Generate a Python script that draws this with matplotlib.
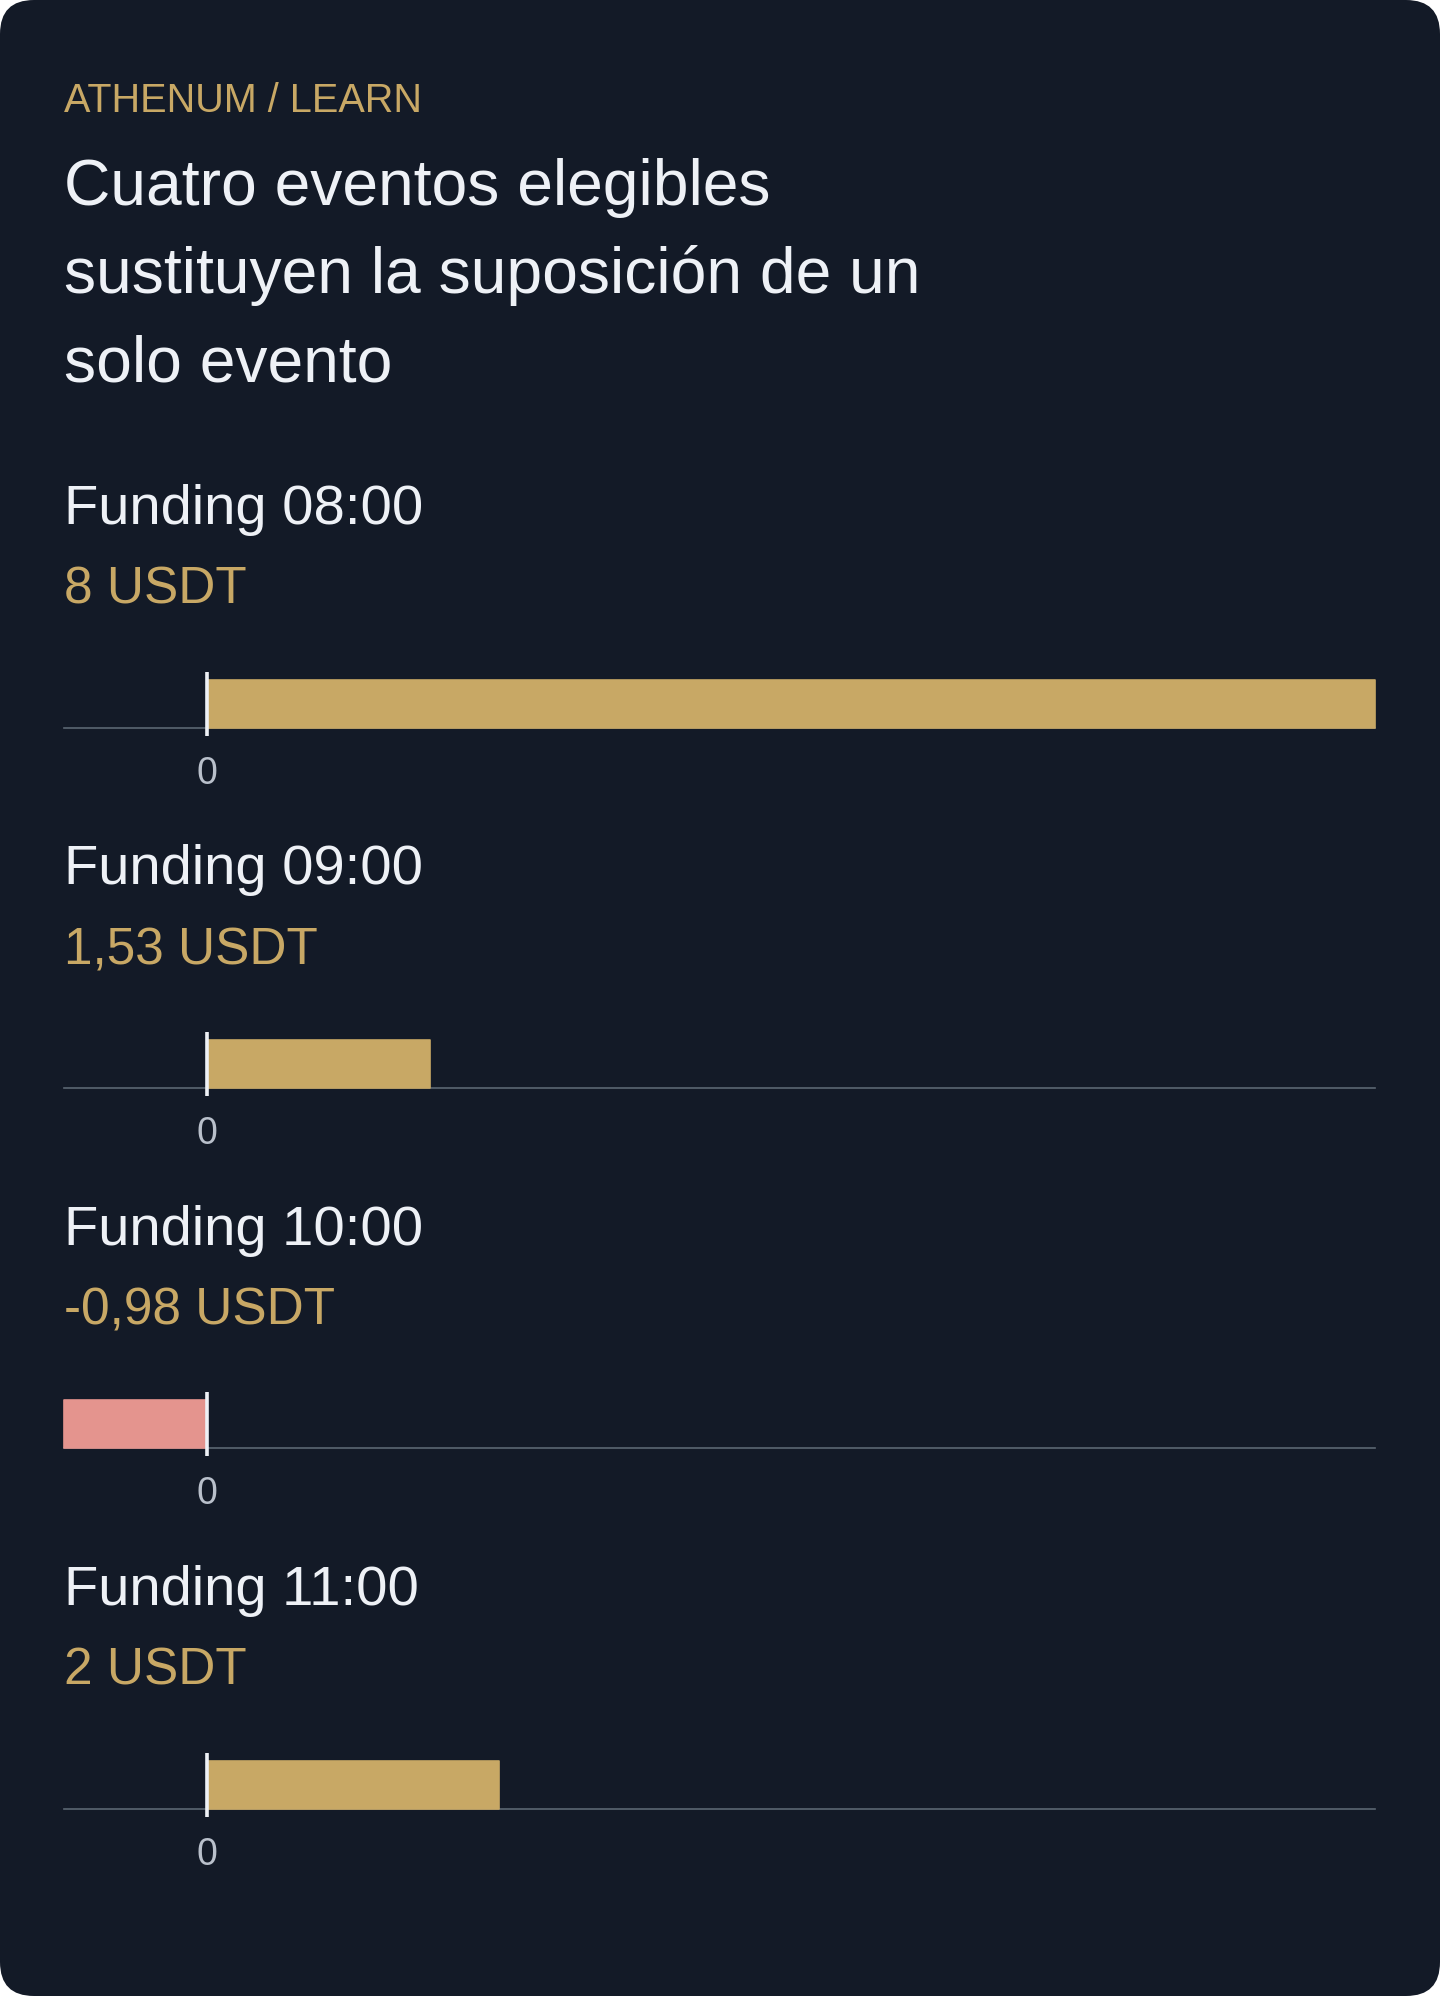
import matplotlib
matplotlib.use("Agg")
import matplotlib.pyplot as plt
from matplotlib.patches import FancyBboxPatch

plt.rcParams['font.family'] = ['Liberation Sans', 'DejaVu Sans']

# ---- data ----
kicker = "ATHENUM / LEARN"
title_lines = ["Cuatro eventos elegibles", "sustituyen la suposición de un", "solo evento"]
events = ["Funding 08:00", "Funding 09:00", "Funding 10:00", "Funding 11:00"]
values = [8.0, 1.53, -0.98, 2.0]
value_labels = ["8 USDT", "1,53 USDT", "-0,98 USDT", "2 USDT"]
tick_vals = [0]
tick_labels = ["0"]

# ---- style ----
W, H = 1440, 1996
DPI = 100
BG = "#131a27"
GOLD = "#c8a865"
RED = "#e4948e"
WHITE = "#eef1f6"
GRID = "#5b6672"
TICK = "#b9c0cb"

fig = plt.figure(figsize=(W / DPI, H / DPI), dpi=DPI, facecolor="white")

card = FancyBboxPatch((0, 0), W, H, boxstyle="round,pad=0,rounding_size=34",
                      transform=None, facecolor=BG, edgecolor="none", zorder=-10)
fig.patches.append(card)

def fy(px):
    return 1 - px / H

def fx(px):
    return px / W

LEFT = 64
RIGHT = 1375

fig.text(fx(LEFT), fy(112), kicker, color=GOLD, fontsize=28.5, va="baseline", ha="left")
for i, line in enumerate(title_lines):
    fig.text(fx(LEFT), fy(205 + 88 * i), line, color=WHITE, fontsize=46.2, va="baseline", ha="left")

STEP = 360.3
BAR_H = 48
xmin = min(min(values), 0)
xmax = max(values)

for k, (ev, v, lab) in enumerate(zip(events, values, value_labels)):
    off = STEP * k
    fig.text(fx(LEFT), fy(524 + off), ev, color=WHITE, fontsize=40.4, va="baseline", ha="left")
    fig.text(fx(LEFT), fy(604 + off), lab, color=GOLD, fontsize=37, va="baseline", ha="left")

    axis_y = 727.7 + off
    ax = fig.add_axes([fx(LEFT), fy(axis_y), fx(RIGHT) - fx(LEFT), BAR_H / H])
    ax.set_zorder(5)
    ax.set_facecolor("none")
    ax.set_xlim(xmin, xmax)
    ax.set_ylim(0, BAR_H)
    for s in ax.spines.values():
        s.set_visible(False)
    ax.set_xticks([])
    ax.set_yticks([])

    ax.axhline(0, color=GRID, lw=1.2, zorder=1, clip_on=False)
    color = GOLD if v >= 0 else RED
    ax.barh([BAR_H / 2], [v], height=BAR_H, color=color, edgecolor=color, linewidth=1.2,
            joinstyle="round", zorder=2, clip_on=False)
    ax.plot([0, 0], [-8, BAR_H + 8], color=WHITE, lw=2.6, zorder=4, clip_on=False,
            solid_capstyle="butt")
    for tv, tl in zip(tick_vals, tick_labels):
        ax.text(tv, -46, tl, color=TICK, fontsize=27, ha="center", va="center", clip_on=False)

fig.savefig("out.png", dpi=DPI, facecolor="white")
